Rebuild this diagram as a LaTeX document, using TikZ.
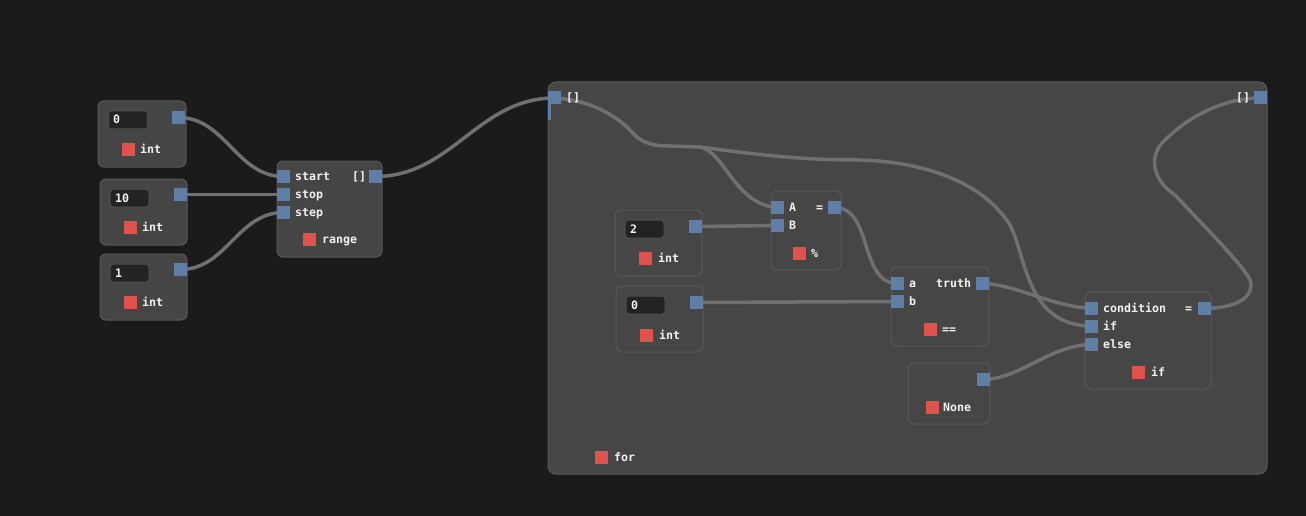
\documentclass[tikz,border=0pt]{standalone}
\usepackage{fontspec}
\newfontfamily\uifont{DejaVu Sans Mono Bold}
\definecolor{bg}{HTML}{1B1B1B}
\definecolor{boxfill}{HTML}{454545}
\definecolor{boxline}{HTML}{585858}
\definecolor{contfill}{HTML}{464646}
\definecolor{contline}{HTML}{5C5C5C}
\definecolor{fieldfill}{HTML}{232323}
\definecolor{fieldline}{HTML}{505050}
\definecolor{portc}{HTML}{5F7FA6}
\definecolor{tagc}{HTML}{E0524C}
\definecolor{wirec}{HTML}{707070}
\definecolor{txt}{HTML}{F2F2F2}
\tikzset{
  box/.style={draw=boxline, fill=boxfill, rounded corners=6pt, line width=1pt, inner sep=0pt},
  cont/.style={draw=contline, fill=contfill, rounded corners=8pt, line width=1pt, inner sep=0pt},
  port/.style={fill=portc, minimum size=13pt, inner sep=0pt},
  tag/.style={fill=tagc, minimum size=13pt, inner sep=0pt},
  lbl/.style={text=txt, font=\uifont\fontsize{11.6}{13}\selectfont, inner sep=0pt, anchor=base west},
  field/.style={draw=fieldline, fill=fieldfill, rounded corners=3pt, inner sep=0pt, line width=1pt, minimum width=39pt, minimum height=18pt},
  wire/.style={draw=wirec, line width=3.5pt}
}
\begin{document}
\begin{tikzpicture}[x=1pt,y=-1pt]
\fill[bg] (0,0) rectangle (1306,516);
\useasboundingbox (0,0) rectangle (1306,516);

% ---------- outer nodes ----------
\node[box, minimum width=88pt, minimum height=66pt] (n0) at (142,134) {};
\node[field] (n0f) at (128,120) {};
\node[box, minimum width=87pt, minimum height=66pt] (n10) at (143.5,212) {};
\node[field] (n10f) at (129.5,198) {};
\node[box, minimum width=87pt, minimum height=66pt] (n1) at (143.5,287) {};
\node[field] (n1f) at (129.5,273) {};
\node[box, minimum width=105pt, minimum height=96pt] (rng) at (329.5,209) {};

% ---------- container ----------
\node[cont, minimum width=719pt, minimum height=392pt] (loop) at (907.5,278) {};
\fill[portc] (548,104) rectangle (550.5,120);

% ---------- inner nodes ----------
\node[box, fill=contfill, minimum width=87pt, minimum height=66pt] (i2) at (658.5,243) {};
\node[field] (i2f) at (644.5,229) {};
\node[box, fill=contfill, minimum width=87pt, minimum height=66pt] (i0) at (659.5,319) {};
\node[field] (i0f) at (645.5,305) {};
\node[box, fill=contfill, minimum width=70pt, minimum height=79pt] (md) at (806,230.5) {};
\node[box, fill=contfill, minimum width=98pt, minimum height=79pt] (eq) at (940,306.5) {};
\node[box, fill=contfill, minimum width=82pt, minimum height=61pt] (nn) at (949,393.5) {};
\node[box, fill=contfill, minimum width=126pt, minimum height=97pt] (ifn) at (1148,340.5) {};

% ---------- ports (coordinates first, squares drawn later) ----------
\coordinate (n0o) at (178.5,117.5);
\coordinate (n10o) at (180.5,194.5);
\coordinate (n1o) at (180.5,269.5);
\coordinate (rstart) at (283.5,176.5);
\coordinate (rstop) at (283.5,194.5);
\coordinate (rstep) at (283.5,212.5);
\coordinate (rout) at (375.5,176.5);
\coordinate (forin) at (554.5,98);
\coordinate (forout) at (1260.5,98);
\coordinate (i2o) at (695.5,226.5);
\coordinate (i0o) at (696.5,302.5);
\coordinate (mA) at (777.5,207.5);
\coordinate (mB) at (777.5,225.5);
\coordinate (mo) at (834.5,207.5);
\coordinate (ea) at (897.5,283.5);
\coordinate (eb) at (897.5,301.5);
\coordinate (eo) at (982.5,283.5);
\coordinate (no) at (983.5,379.5);
\coordinate (ic) at (1091.5,308.5);
\coordinate (ii) at (1091.5,326);
\coordinate (ie) at (1091.5,344.5);
\coordinate (io) at (1204.5,308.5);

% ---------- wires ----------
\draw[wire] (n0o) to[out=0,in=180] (rstart);
\draw[wire] (n10o) -- (rstop);
\draw[wire] (n1o) to[out=0,in=180] (rstep);
\draw[wire] (rout) to[out=0,in=180] (forin);
\coordinate (split) at (700,147);
\draw[wire] (forin) .. controls (590,100) and (615,115) .. (630,130)
  .. controls (640,142) and (650,146) .. (670,146) -- (split)
  .. controls (725,152) and (735,205) .. (mA);
\draw[wire] (split) .. controls (760,155) and (800,160) .. (860,160)
  .. controls (930,162) and (985,185) .. (1010,225)
  .. controls (1026,255) and (1026,326) .. (ii);
\draw[wire] (i2o) -- (mB);
\draw[wire] (i0o) -- (eb);
\draw[wire] (mo) to[out=0,in=180] (ea);
\draw[wire] (eo) .. controls (1015,284) and (1050,306) .. (ic);
\draw[wire] (no) .. controls (1020,379) and (1050,345) .. (ie);
\draw[wire] (io) .. controls (1240,308) and (1255,295) .. (1250,280)
  .. controls (1244,266) and (1200,222) .. (1175,195)
  .. controls (1152,180) and (1148,155) .. (1165,140)
  .. controls (1185,120) and (1220,98) .. (forout);

% ---------- port squares ----------
\foreach \p in {n0o,n10o,n1o,rstart,rstop,rstep,rout,forin,forout,i2o,i0o,mA,mB,mo,ea,eb,eo,no,ic,ii,ie,io}
  \node[port] (sq-\p) at (\p) {};

% ---------- tags ----------
\node[tag] (t0) at (128.5,149.5) {};
\node[tag] (t10) at (130.5,227.5) {};
\node[tag] (t1) at (130.5,302.5) {};
\node[tag] (trng) at (309.5,239.5) {};
\node[tag] (tfor) at (601.5,457) {};
\node[tag] (ti2) at (645.5,258.5) {};
\node[tag] (ti0) at (646.5,335.5) {};
\node[tag] (tmd) at (799.5,253.5) {};
\node[tag] (teq) at (930.5,329.5) {};
\node[tag] (tnn) at (932.5,407) {};
\node[tag] (tif) at (1138.5,372) {};

% ---------- labels ----------
\node[lbl] (l0v) at (113,124) {0};
\node[lbl] (l0t) at (140,153.5) {int};
\node[lbl] (l10v) at (115,202) {10};
\node[lbl] (l10t) at (142,231.5) {int};
\node[lbl] (l1v) at (115,277) {1};
\node[lbl] (l1t) at (142,306.5) {int};
\node[lbl] (lstart) at (295,180.5) {start};
\node[lbl] (lstop) at (295,198.5) {stop};
\node[lbl] (lstep) at (295,216.5) {step};
\node[lbl] (lrl) at (352,180.5) {[]};
\node[lbl] (lrng) at (322,243.5) {range};
\node[lbl] (lfin) at (566,102) {[]};
\node[lbl] (lfout) at (1236,102) {[]};
\node[lbl] (lfor) at (614,461) {for};
\node[lbl] (li2v) at (630,233) {2};
\node[lbl] (li2t) at (658,262.5) {int};
\node[lbl] (li0v) at (631,309) {0};
\node[lbl] (li0t) at (659,339.5) {int};
\node[lbl] (lA) at (789,211.5) {A};
\node[lbl] (lB) at (789,229.5) {B};
\node[lbl] (lmeq) at (816,211.5) {=};
\node[lbl] (lmd) at (811,257.5) {\%};
\node[lbl] (la) at (909,287.5) {a};
\node[lbl] (lb) at (909,305.5) {b};
\node[lbl] (ltruth) at (936,287.5) {truth};
\node[lbl] (leq) at (942,333.5) {==};
\node[lbl] (lnn) at (943,411) {None};
\node[lbl] (lcond) at (1103,312.5) {condition};
\node[lbl] (lif) at (1103,330) {if};
\node[lbl] (lelse) at (1103,348.5) {else};
\node[lbl] (lieq) at (1185,312.5) {=};
\node[lbl] (lift) at (1151,376) {if};
\end{tikzpicture}
\end{document}
